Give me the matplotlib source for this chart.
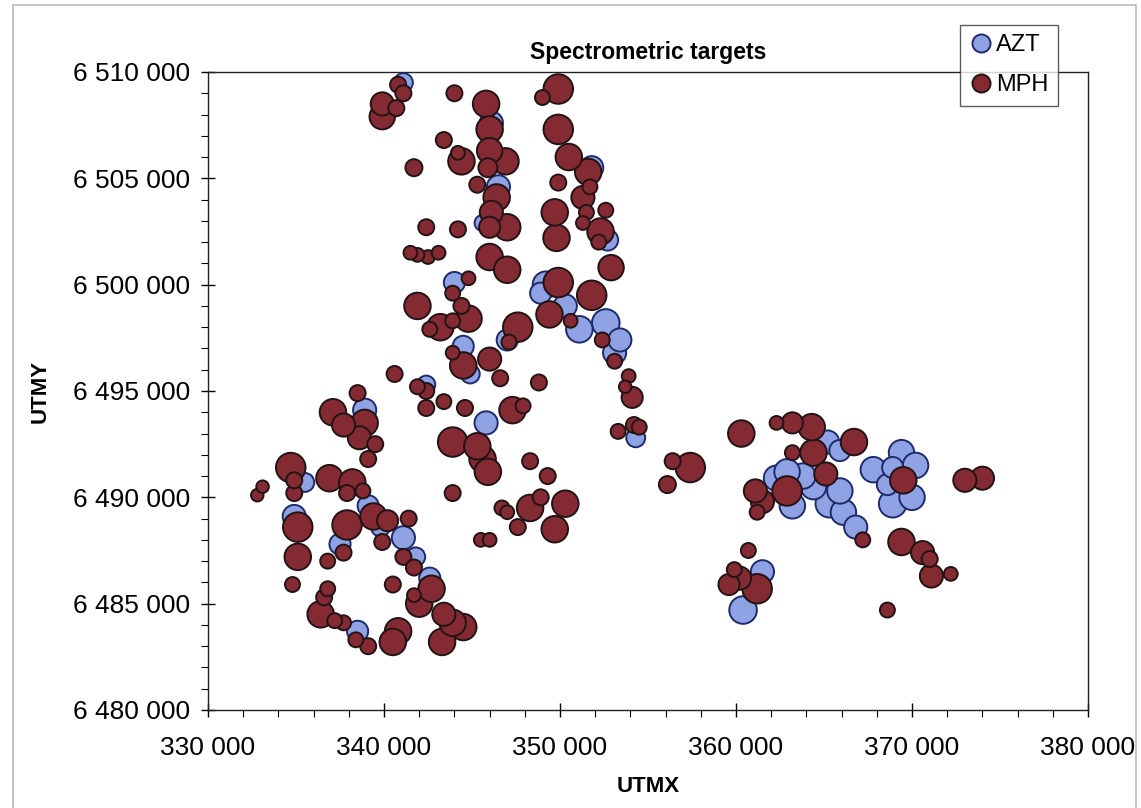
import matplotlib
matplotlib.use("Agg")
import matplotlib.pyplot as plt
from matplotlib.lines import Line2D
from matplotlib.ticker import MultipleLocator, FuncFormatter
import numpy as np

plt.rcParams['font.family'] = ['Liberation Sans', 'DejaVu Sans']

# AZT targets: UTM X / UTM Y in km, bubble size value
azt_x = [341.1, 346.1, 346.5, 345.6, 344.0, 349.2, 350.3, 351.1, 352.6, 353.4,
         353.1, 351.8, 352.7, 347.0, 344.5, 344.9, 342.4, 345.8, 338.9, 335.5,
         334.9, 339.1, 339.8, 341.1, 337.5, 341.8, 342.6, 338.5, 354.3, 348.9,
         365.2, 365.9, 362.3, 362.9, 363.8, 364.4, 363.2, 365.3, 366.1, 366.8,
         365.9, 361.5, 360.4, 367.8, 369.4, 370.2, 368.9, 368.6, 370.0, 368.9]
azt_y = [6509.5, 6507.6, 6504.6, 6502.9, 6500.1, 6500.0, 6499.0, 6497.9, 6498.2, 6497.4,
         6496.8, 6505.5, 6502.1, 6497.4, 6497.1, 6495.8, 6495.3, 6493.5, 6494.1, 6490.7,
         6489.1, 6489.6, 6488.6, 6488.1, 6487.8, 6487.2, 6486.2, 6483.7, 6492.8, 6499.6,
         6492.6, 6492.2, 6490.9, 6491.2, 6491.0, 6490.5, 6489.6, 6489.7, 6489.3, 6488.6,
         6490.3, 6486.5, 6484.7, 6491.3, 6492.1, 6491.5, 6491.4, 6490.6, 6490.0, 6489.7]
azt_size = [3.2, 4.8, 4.8, 2.3, 4.0, 6.3, 4.8, 6.3, 6.8, 4.8,
            4.8, 4.8, 4.0, 4.0, 4.0, 3.2, 2.9, 4.8, 4.8, 3.2,
            4.8, 4.0, 3.2, 4.8, 4.0, 3.2, 4.0, 4.0, 3.2, 4.0,
            4.8, 4.0, 5.8, 5.8, 5.8, 5.8, 5.8, 6.8, 5.8, 4.8,
            5.8, 4.8, 6.8, 5.8, 5.8, 5.8, 4.0, 4.0, 5.8, 6.8]

# MPH targets
mph_x = [340.8, 341.1, 339.9, 339.9, 340.7, 344.0, 345.8, 346.0, 343.4, 344.2,
         344.4, 346.0, 346.9, 345.9, 345.3, 346.4, 346.1, 347.0, 346.0, 341.7,
         342.4, 344.2, 341.5, 341.9, 342.5, 343.1, 346.0, 347.0, 344.8, 343.9,
         349.9, 349.0, 349.9, 350.5, 351.6, 349.9, 351.7, 351.3, 349.7, 351.5,
         352.6, 351.3, 352.3, 352.2, 349.8, 352.9, 349.9, 351.8, 349.4, 350.6,
         352.4, 353.1, 344.4, 341.9, 343.2, 342.6, 343.9, 344.8, 347.6, 347.1,
         343.9, 344.5, 346.0, 346.6, 340.6, 348.8, 341.9, 342.4, 343.4, 342.4,
         344.6, 347.3, 347.9, 343.9, 345.3, 345.6, 345.9, 348.3, 349.3, 343.9,
         346.7, 347.0, 348.3, 348.9, 350.3, 347.6, 349.7, 345.5, 346.0, 353.9,
         353.7, 354.1, 353.3, 354.2, 354.5, 338.5, 337.1, 337.7, 338.9, 338.6,
         339.5, 339.1, 334.7, 334.9, 334.9, 333.1, 332.8, 336.9, 338.2, 337.9,
         338.8, 335.1, 337.9, 339.4, 340.2, 341.4, 339.9, 337.7, 336.8, 335.1,
         341.1, 341.7, 334.8, 340.5, 336.8, 336.6, 342.7, 342.0, 341.7, 336.4,
         337.2, 337.7, 343.4, 343.9, 344.5, 343.3, 338.4, 339.1, 340.8, 340.5,
         356.4, 357.4, 356.1, 360.3, 362.3, 363.2, 364.3, 364.4, 363.2, 365.1,
         362.9, 361.1, 361.5, 361.2, 366.7, 367.2, 369.5, 373.0, 374.0, 369.4,
         370.6, 371.0, 371.1, 372.2, 368.6, 360.7, 359.6, 360.2, 361.2, 359.9]
mph_y = [6509.4, 6509.0, 6508.5, 6507.9, 6508.3, 6509.0, 6508.5, 6507.3, 6506.8, 6506.2,
         6505.8, 6506.3, 6505.8, 6505.5, 6504.7, 6504.1, 6503.4, 6502.7, 6502.7, 6505.5,
         6502.7, 6502.6, 6501.5, 6501.4, 6501.3, 6501.5, 6501.3, 6500.7, 6500.3, 6499.6,
         6509.2, 6508.8, 6507.3, 6506.0, 6505.3, 6504.8, 6504.6, 6504.1, 6503.4, 6503.4,
         6503.5, 6502.9, 6502.5, 6502.0, 6502.2, 6500.8, 6500.1, 6499.5, 6498.6, 6498.3,
         6497.4, 6496.4, 6499.0, 6499.0, 6498.0, 6497.9, 6498.3, 6498.4, 6498.0, 6497.3,
         6496.8, 6496.2, 6496.5, 6495.6, 6495.8, 6495.4, 6495.2, 6495.0, 6494.5, 6494.2,
         6494.2, 6494.1, 6494.3, 6492.6, 6492.4, 6491.8, 6491.2, 6491.7, 6491.0, 6490.2,
         6489.5, 6489.3, 6489.5, 6490.0, 6489.7, 6488.6, 6488.5, 6488.0, 6488.0, 6495.7,
         6495.2, 6494.7, 6493.1, 6493.4, 6493.3, 6494.9, 6494.0, 6493.4, 6493.5, 6492.8,
         6492.5, 6491.8, 6491.4, 6490.8, 6490.2, 6490.5, 6490.1, 6490.9, 6490.7, 6490.2,
         6490.3, 6488.6, 6488.7, 6489.1, 6488.9, 6489.0, 6487.9, 6487.4, 6487.0, 6487.2,
         6487.2, 6486.7, 6485.9, 6485.9, 6485.7, 6485.3, 6485.7, 6485.0, 6485.4, 6484.5,
         6484.2, 6484.1, 6484.5, 6484.1, 6483.9, 6483.2, 6483.3, 6483.0, 6483.7, 6483.2,
         6491.7, 6491.4, 6490.6, 6493.0, 6493.5, 6493.5, 6493.3, 6492.1, 6492.1, 6491.1,
         6490.3, 6490.3, 6489.8, 6489.3, 6492.6, 6488.0, 6490.8, 6490.8, 6490.9, 6487.9,
         6487.4, 6487.1, 6486.3, 6486.4, 6484.7, 6487.5, 6485.9, 6486.2, 6485.7, 6486.6]
mph_size = [2.3, 2.3, 4.8, 5.8, 2.3, 2.3, 6.3, 6.3, 2.3, 1.7,
            6.3, 5.8, 6.3, 3.2, 2.3, 6.3, 4.8, 6.3, 4.0, 2.6,
            2.3, 2.3, 1.7, 1.7, 1.7, 1.7, 6.3, 6.3, 1.7, 2.0,
            7.8, 2.0, 7.8, 6.3, 6.3, 2.3, 2.0, 4.8, 6.3, 2.0,
            2.0, 1.7, 6.3, 2.0, 6.3, 5.8, 7.8, 7.8, 6.3, 1.7,
            2.0, 2.0, 2.3, 6.3, 6.3, 2.0, 2.0, 6.3, 7.8, 2.0,
            1.7, 6.3, 4.8, 2.3, 2.3, 2.3, 2.0, 2.3, 2.0, 2.3,
            2.3, 6.3, 2.0, 7.8, 6.3, 6.3, 6.3, 2.3, 2.3, 2.3,
            2.0, 1.7, 6.3, 2.3, 6.3, 2.3, 6.3, 1.7, 1.7, 1.7,
            1.4, 4.0, 2.0, 2.3, 2.0, 2.3, 6.3, 4.8, 6.3, 4.8,
            2.3, 2.3, 7.8, 2.3, 2.3, 1.4, 1.4, 6.3, 6.3, 2.3,
            2.0, 7.8, 7.8, 6.3, 4.0, 2.3, 2.3, 2.3, 2.0, 6.3,
            2.3, 2.3, 2.0, 2.3, 2.0, 2.3, 6.3, 6.3, 1.7, 6.3,
            2.0, 2.0, 4.8, 6.3, 6.3, 6.3, 2.0, 2.3, 6.3, 6.3,
            2.3, 7.8, 2.6, 6.3, 1.7, 4.0, 6.3, 6.3, 2.0, 4.8,
            7.8, 4.8, 4.8, 2.0, 6.3, 2.0, 6.3, 4.8, 4.8, 6.3,
            4.8, 2.3, 4.8, 1.7, 2.0, 2.0, 4.0, 4.8, 7.8, 2.0]

AZT_FILL, AZT_EDGE = '#8fa2e4', '#1e2b6a'
MPH_FILL, MPH_EDGE = '#842a33', '#221315'
K = 58  # bubble value -> marker area


def bubbles(ax, xs, ys, vals, fill, edge):
    xs = np.array(xs) * 1000
    ys = np.array(ys) * 1000
    vals = np.array(vals)
    order = np.argsort(-vals)  # big ones behind
    ax.scatter(xs[order], ys[order], s=vals[order] * K, c=fill,
               edgecolors=edge, linewidths=1.4, zorder=3)


fig = plt.figure(figsize=(11.41, 8.08), dpi=100)
ax = fig.add_axes([0.1823, 0.1213, 0.7713, 0.7896])

bubbles(ax, azt_x, azt_y, azt_size, AZT_FILL, AZT_EDGE)
bubbles(ax, mph_x, mph_y, mph_size, MPH_FILL, MPH_EDGE)

ax.set_xlim(330000, 380000)
ax.set_ylim(6480000, 6510000)
ax.xaxis.set_major_locator(MultipleLocator(10000))
ax.xaxis.set_minor_locator(MultipleLocator(2000))
ax.yaxis.set_major_locator(MultipleLocator(5000))
ax.yaxis.set_minor_locator(MultipleLocator(1000))
fmt = FuncFormatter(lambda v, p: f"{int(round(v)):,}".replace(",", " "))
ax.xaxis.set_major_formatter(fmt)
ax.yaxis.set_major_formatter(fmt)
ax.tick_params(which='major', direction='inout', length=10, width=1, labelsize=19)
ax.tick_params(axis='x', which='major', pad=14)
ax.tick_params(axis='y', which='major', pad=8)
ax.tick_params(which='minor', direction='out', length=5, width=0.8)
for sp in ax.spines.values():
    sp.set_linewidth(1)
    sp.set_color('#222222')

ax.set_title("Spectrometric targets", fontsize=16.5, fontweight='bold', pad=9)
ax.set_xlabel("UTMX", fontsize=16, fontweight='bold', labelpad=11)
ax.set_ylabel("UTMY", fontsize=16, fontweight='bold', labelpad=16)

handles = [Line2D([], [], ls='none', marker='o', ms=13, mfc=AZT_FILL, mec=AZT_EDGE, mew=1.4),
           Line2D([], [], ls='none', marker='o', ms=13, mfc=MPH_FILL, mec=MPH_EDGE, mew=1.4)]
leg = fig.legend(handles, ['AZT', 'MPH'], loc='upper left', bbox_to_anchor=(0.841, 0.969),
                 fontsize=17, frameon=True, fancybox=False, edgecolor='#333333',
                 handletextpad=0.15, handlelength=1.0, borderpad=0.4, labelspacing=0.75,
                 borderaxespad=0)
leg.get_frame().set_linewidth(1)

# chart area border
fig.patches.append(plt.Rectangle((0.011, -0.01), 0.985, 1.004, transform=fig.transFigure,
                                 fill=False, edgecolor='#bbbbbb', linewidth=1.2))

fig.savefig("out.png", dpi=100, facecolor='white')
